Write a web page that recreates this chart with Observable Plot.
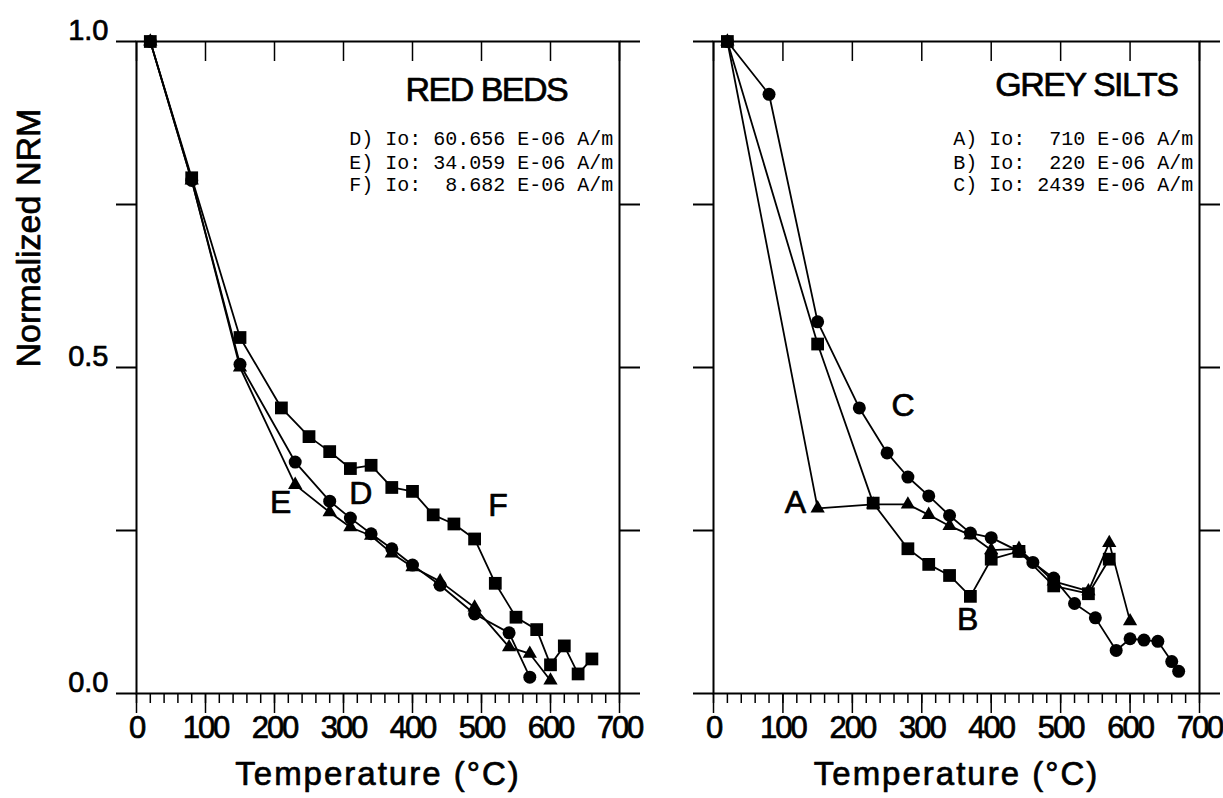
<!DOCTYPE html>
<html><head><meta charset="utf-8">
<script src="https://cdn.jsdelivr.net/npm/d3@7"></script>
<script src="https://cdn.jsdelivr.net/npm/@observablehq/plot@0.6"></script>
<style>
html,body{margin:0;padding:0;background:#fff;}
#wrap{position:relative;width:1223px;height:798px;overflow:hidden;background:#fff;}
#left{position:absolute;left:0;top:0;}
#right{position:absolute;left:645px;top:0;}
</style></head><body><div id="wrap"><div id="left"></div><div id="right"></div></div>
<script>
// ---------- DATA ----------
// RED BEDS
const redD_T = [20, 80, 150, 230, 280, 310, 340, 370, 400, 440, 490, 540, 570];
const redD_v = [1.0, 0.787, 0.505, 0.355, 0.295, 0.269, 0.245, 0.222, 0.197, 0.166, 0.122, 0.093, 0.025];
const redE_T = [20, 80, 150, 230, 280, 310, 340, 370, 400, 440, 490, 540, 570, 600];
const redE_v = [1.0, 0.787, 0.500, 0.320, 0.278, 0.255, 0.242, 0.215, 0.194, 0.172, 0.132, 0.071, 0.061, 0.020];
const redF_T = [20, 80, 150, 210, 250, 280, 310, 340, 370, 400, 430, 460, 490, 520, 550, 580, 600, 620, 640, 660];
const redF_v = [1.0, 0.791, 0.546, 0.438, 0.394, 0.371, 0.345, 0.350, 0.316, 0.310, 0.274, 0.260, 0.237, 0.169, 0.117, 0.098, 0.044, 0.073, 0.030, 0.053];
// GREY SILTS
const greyA_T = [20, 150, 230, 280, 310, 340, 370, 400, 440, 490, 540, 570, 600];
const greyA_v = [1.0, 0.284, 0.290, 0.290, 0.274, 0.257, 0.243, 0.220, 0.222, 0.172, 0.157, 0.231, 0.111];
const greyB_T = [20, 150, 230, 280, 310, 340, 370, 400, 440, 490, 540, 570];
const greyB_v = [1.0, 0.536, 0.292, 0.222, 0.198, 0.181, 0.149, 0.206, 0.218, 0.165, 0.153, 0.206];
const greyC_T = [20, 80, 150, 210, 250, 280, 310, 340, 370, 400, 440, 460, 490, 520, 550, 580, 600, 620, 640, 660, 670];
const greyC_v = [1.0, 0.919, 0.570, 0.438, 0.369, 0.332, 0.303, 0.273, 0.246, 0.239, 0.218, 0.201, 0.177, 0.138, 0.116, 0.066, 0.084, 0.082, 0.080, 0.049, 0.034];

// tick values / labels
const xMajor = [0, 100, 200, 300, 400, 500, 600, 700];
const xMinor = d3.range(0, 701, 20);
const yTickVals = [0, 0.25, 0.5, 0.75, 1.0];
const yLabelVals = [0, 0.5, 1.0];

// texts
const redTitle = "RED BEDS";
const greyTitle = "GREY SILTS";
const redLegend = ["D) Io: 60.656 E-06 A/m", "E) Io: 34.059 E-06 A/m", "F) Io:  8.682 E-06 A/m"];
const greyLegend = ["A) Io:  710 E-06 A/m", "B) Io:  220 E-06 A/m", "C) Io: 2439 E-06 A/m"];
const legendY = [0.851, 0.815, 0.781];
const redLetters = ["E", "D", "F"];
const redLetterT = [209, 325, 524];
const redLetterV = [0.293, 0.307, 0.288];
const greyLetters = ["C", "A", "B"];
const greyLetterT = [273, 118, 366];
const greyLetterV = [0.441, 0.292, 0.113];

const rows = (T, v) => T.map((t, i) => ({T: t, v: v[i]}));
const nb = s => s.replace(/ /g, "\u00A0");
const thick = {fill: "black", stroke: "black", strokeWidth: 0.7};

function panel({width, marginLeft, marginRight, series, title, titleT, titleV, legend, letters, lT, lV, showY}) {
  const marks = [];
  for (const s of series) marks.push(Plot.line(s.data, {x: "T", y: "v", stroke: "black", strokeWidth: 1.8}));
  for (const s of series) marks.push(Plot.dot(s.data, {x: "T", y: "v", symbol: s.symbol, r: s.r, fill: "black", stroke: "none"}));
  marks.push(
    Plot.frame({stroke: "black", strokeWidth: 2}),
    Plot.axisX(xMinor, {anchor: "bottom", tickSize: 10, tickFormat: () => "", label: null, strokeWidth: 1.5}),
    Plot.axisX(xMajor, {anchor: "bottom", tickSize: 20, tickPadding: 2, fontSize: 31, label: null, strokeWidth: 1.5, tickFormat: d => String(d)}),
    Plot.tickX(xMajor, {x: d => d, insetBottom: 632, stroke: "black", strokeWidth: 1.5}),
    Plot.axisY(yTickVals, {anchor: "left", tickSize: 20, tickFormat: () => "", label: null, strokeWidth: 2}),
    Plot.axisY(yTickVals, {anchor: "right", tickSize: 20, tickFormat: () => "", label: null, strokeWidth: 2}),
    Plot.text([title], {x: titleT, y: titleV, text: d => d, fontSize: 34, textAnchor: "middle", lineAnchor: "middle", ...thick}),
    Plot.text(legend, {x: 691, y: (d, i) => legendY[i], text: d => nb(d), fontSize: 20, fontFamily: "Liberation Mono, Courier New, monospace", textAnchor: "end", lineAnchor: "middle", fill: "black"}),
    Plot.text(letters, {x: (d, i) => lT[i], y: (d, i) => lV[i], text: d => d, fontSize: 32, textAnchor: "middle", lineAnchor: "middle", ...thick}),
    Plot.text(["Temperature (°C)"], {frameAnchor: "bottom", dy: 91, lineAnchor: "bottom", fontSize: 33, text: d => d, ...thick})
  );
  if (showY) {
    marks.push(
      Plot.text(yLabelVals, {y: d => d, text: d => d.toFixed(1), frameAnchor: "left", dx: -28, textAnchor: "end", lineAnchor: "bottom", dy: -2, fontSize: 29, ...thick}),
      Plot.text(["Normalized NRM"], {frameAnchor: "left", rotate: -90, dx: -97, lineAnchor: "bottom", fontSize: 34, text: d => d, ...thick})
    );
  }
  const svg = Plot.plot({
    width, height: 798,
    marginLeft, marginRight, marginTop: 41, marginBottom: 105,
    style: {fontFamily: "Liberation Sans, Arial, sans-serif", background: "transparent", color: "black", overflow: "visible"},
    x: {domain: [0, 700], label: null, axis: null},
    y: {domain: [0, 1], label: null, axis: null},
    marks
  });
  d3.select(svg).selectAll("text").each(function() {
    const t = this.textContent.trim();
    if (t === "Temperature (°C)") this.setAttribute("letter-spacing", "2");
    if (t === redTitle || t === greyTitle) this.setAttribute("letter-spacing", "-1.5");
    if (/^\d+$/.test(t)) {
      this.setAttribute("fill", "black");
      this.setAttribute("stroke", "black");
      this.setAttribute("stroke-width", "0.7");
      this.setAttribute("letter-spacing", "-2");
    }
  });
  return svg;
}

document.getElementById("left").append(panel({
  width: 645, marginLeft: 136, marginRight: 26,
  series: [
    {data: rows(redD_T, redD_v), symbol: "circle", r: 6.5},
    {data: rows(redE_T, redE_v), symbol: "triangle", r: 5.3},
    {data: rows(redF_T, redF_v), symbol: "square", r: 7.2}
  ],
  title: redTitle, titleT: 507, titleV: 0.925,
  legend: redLegend, letters: redLetters, lT: redLetterT, lV: redLetterV, showY: true
}));
document.getElementById("right").append(panel({
  width: 578, marginLeft: 68, marginRight: 24,
  series: [
    {data: rows(greyA_T, greyA_v), symbol: "triangle", r: 5.3},
    {data: rows(greyB_T, greyB_v), symbol: "square", r: 7.2},
    {data: rows(greyC_T, greyC_v), symbol: "circle", r: 6.5}
  ],
  title: greyTitle, titleT: 537, titleV: 0.933,
  legend: greyLegend, letters: greyLetters, lT: greyLetterT, lV: greyLetterV, showY: false
}));
</script>
</body></html>
